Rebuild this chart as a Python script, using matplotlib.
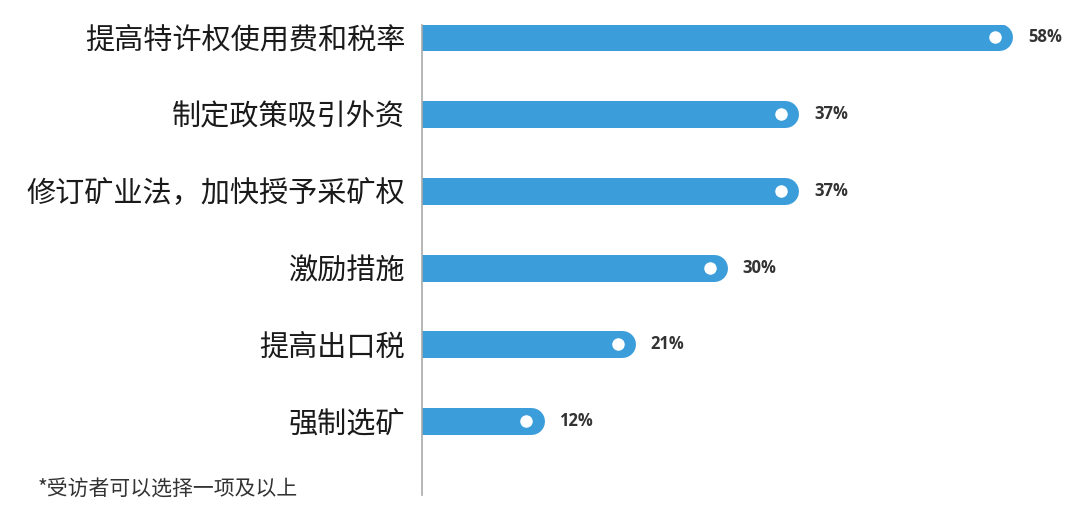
import matplotlib
matplotlib.use("Agg")
import matplotlib.pyplot as plt

plt.rcParams['font.family'] = ['Noto Sans CJK SC', 'DejaVu Sans']

categories = ["提高特许权使用费和税率", "制定政策吸引外资", "修订矿业法，加快授予采矿权",
              "激励措施", "提高出口税", "强制选矿"]
values = [58, 37, 37, 30, 21, 12]
value_labels = ["58%", "37%", "37%", "30%", "21%", "12%"]
footnote = "*受访者可以选择一项及以上"

BAR_COLOR = "#3b9dd9"
DPI = 100

fig = plt.figure(figsize=(10.8, 5.05), dpi=DPI)
ax = fig.add_axes([0.3907, 0.0198, 0.6037, 0.9307])
ax.set_xlim(0, 64)
ax.set_ylim(5.96, -0.16)

# pixels per data unit along x, to turn the round cap into data units
px_per_unit = 0.6037 * 1080 / 64
bar_px = 27
cap_r = bar_px / 2 / px_per_unit
lw_pt = bar_px * 72 / DPI

ys = list(range(len(categories)))
ax.hlines(ys, 0, [v - cap_r for v in values], colors=BAR_COLOR,
          linewidth=lw_pt, capstyle='round', zorder=2)
ax.plot([v - 18 / px_per_unit for v in values], ys, 'o', color='white',
        markersize=9, markeredgewidth=0, zorder=3)

for y, v, lab in zip(ys, values, value_labels):
    ax.text(v + 15 / px_per_unit, y, lab, va='center', ha='left',
            fontsize=12, fontweight='bold', color='#333333',
            family=['Open Sans', 'DejaVu Sans'])

ax.set_yticks(ys)
ax.set_yticklabels(categories, fontsize=21, color='#1a1a1a')
ax.tick_params(axis='y', length=0, pad=12)
ax.set_xticks([])

for side in ['top', 'right', 'bottom']:
    ax.spines[side].set_visible(False)
ax.spines['left'].set_color('#aaaaaa')
ax.spines['left'].set_linewidth(1.2)

fig.text(38 / 1080, 1 - 490 / 505, footnote, fontsize=15, color='#333333',
         va='center', ha='left')

fig.savefig("out.png", dpi=DPI)
